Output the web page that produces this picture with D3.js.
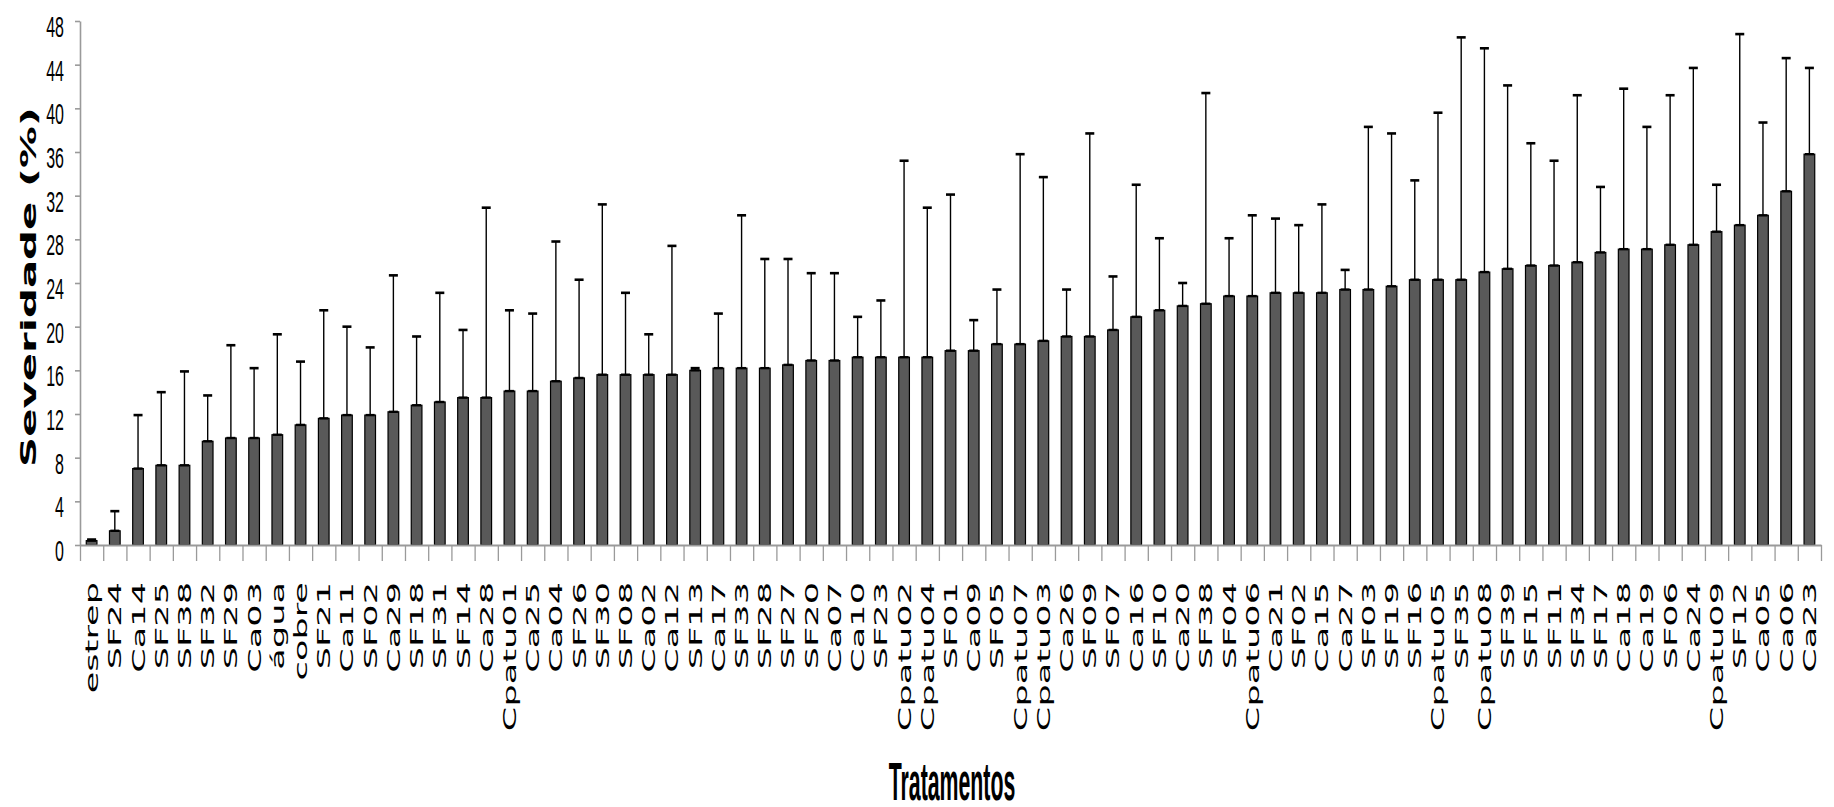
<!DOCTYPE html>
<html>
<head>
<meta charset="utf-8">
<script src="https://cdn.jsdelivr.net/npm/d3@7"></script>
<style>
  body { margin: 0; background: #fff; }
  svg { display: block; }
</style>
</head>
<body>
<div id="chart"></div>
<script>
const labels = ["estrep","SF24","Ca14","SF25","SF38","SF32","SF29","Ca03","água","cobre",
  "SF21","Ca11","SF02","Ca29","SF18","SF31","SF14","Ca28","Cpatu01","Ca25",
  "Ca04","SF26","SF30","SF08","Ca02","Ca12","SF13","Ca17","SF33","SF28",
  "SF27","SF20","Ca07","Ca10","SF23","Cpatu02","Cpatu04","SF01","Ca09","SF05",
  "Cpatu07","Cpatu03","Ca26","SF09","SF07","Ca16","SF10","Ca20","SF38","SF04",
  "Cpatu06","Ca21","SF02","Ca15","Ca27","SF03","SF19","SF16","Cpatu05","SF35",
  "Cpatu08","SF39","SF15","SF11","SF34","SF17","Ca18","Ca19","SF06","Ca24",
  "Cpatu09","SF12","Ca05","Ca06","Ca23"];

// mean severity (%)
const means = [0.4,1.3,7.0,7.3,7.3,9.5,9.8,9.8,10.1,11.0,
  11.6,11.9,11.9,12.2,12.8,13.1,13.5,13.5,14.1,14.1,
  15.0,15.3,15.6,15.6,15.6,15.6,16.0,16.2,16.2,16.2,
  16.5,16.9,16.9,17.2,17.2,17.2,17.2,17.8,17.8,18.4,
  18.4,18.7,19.1,19.1,19.7,20.9,21.5,21.9,22.1,22.8,
  22.8,23.1,23.1,23.1,23.4,23.4,23.7,24.3,24.3,24.3,
  25.0,25.3,25.6,25.6,25.9,26.8,27.1,27.1,27.5,27.5,
  28.7,29.3,30.2,32.4,35.8];

// standard deviation (upper error bar)
const sds = [0.1,1.8,4.9,6.7,8.6,4.2,8.5,6.4,9.2,5.8,
  9.9,8.1,6.2,12.5,6.3,10.0,6.2,17.4,7.4,7.1,
  12.8,9.0,15.6,7.5,3.7,11.8,0.2,5.0,14.0,10.0,
  9.7,8.0,8.0,3.7,5.2,18.0,13.7,14.3,2.8,5.0,
  17.4,15.0,4.3,18.6,4.9,12.1,6.6,2.1,19.3,5.3,
  7.4,6.8,6.2,8.1,1.8,14.9,14.0,9.1,15.3,22.2,
  20.5,16.8,11.2,9.6,15.3,6.0,14.7,11.2,13.7,16.2,
  4.3,17.5,8.5,12.2,7.9];

const yTicks = [0,4,8,12,16,20,24,28,32,36,40,44,48];

const width = 1834, height = 807;
const margin = { top: 21, right: 13, bottom: 262, left: 80 };
const axisColor = "#9a9a9a";

const svg = d3.select("#chart").append("svg")
  .attr("width", width)
  .attr("height", height);

const data = labels.map((name, i) => ({ i, name, mean: means[i], sd: sds[i] }));

const x = d3.scaleBand()
  .domain(d3.range(labels.length))
  .range([margin.left, width - margin.right])
  .paddingInner(0.54)
  .paddingOuter(0.27);

// band boundaries for the tick marks
const xEdge = d3.scaleLinear()
  .domain([0, labels.length])
  .range([margin.left, width - margin.right]);

const y = d3.scaleLinear()
  .domain([0, 48])
  .range([height - margin.bottom, margin.top]);

const y0 = y(0);
const capW = 9;

// bars
svg.append("g").selectAll("rect")
  .data(data)
  .enter().append("rect")
  .attr("x", d => x(d.i))
  .attr("y", d => y(d.mean))
  .attr("width", x.bandwidth())
  .attr("height", d => y0 - y(d.mean))
  .attr("fill", "#595959")
  .attr("stroke", "#000")
  .attr("stroke-width", 1.2);

// error bars
const err = svg.append("g");
const cx = d => x(d.i) + x.bandwidth() / 2;

err.selectAll(".stem")
  .data(data)
  .enter().append("line")
  .attr("class", "stem")
  .attr("x1", cx).attr("x2", cx)
  .attr("y1", d => y(d.mean))
  .attr("y2", d => y(d.mean + d.sd))
  .attr("stroke", "#000")
  .attr("stroke-width", 1.4);

err.selectAll(".cap")
  .data(data)
  .enter().append("line")
  .attr("class", "cap")
  .attr("x1", d => cx(d) - capW / 2)
  .attr("x2", d => cx(d) + capW / 2)
  .attr("y1", d => y(d.mean + d.sd))
  .attr("y2", d => y(d.mean + d.sd))
  .attr("stroke", "#000")
  .attr("stroke-width", 2.6);

err.selectAll(".capLow")
  .data(data)
  .enter().append("line")
  .attr("class", "capLow")
  .attr("x1", d => cx(d) - capW / 2)
  .attr("x2", d => cx(d) + capW / 2)
  .attr("y1", d => y(d.mean))
  .attr("y2", d => y(d.mean))
  .attr("stroke", "#000")
  .attr("stroke-width", 2.4);

// x axis (ticks at band edges)
const xAxisG = svg.append("g")
  .attr("transform", `translate(0,${y0})`)
  .call(d3.axisBottom(xEdge)
    .tickValues(d3.range(labels.length + 1))
    .tickSize(16)
    .tickSizeOuter(0)
    .tickFormat(""));
xAxisG.select(".domain").attr("stroke", axisColor).attr("stroke-width", 2.2);
xAxisG.selectAll(".tick line").attr("stroke", axisColor).attr("stroke-width", 1.3);

// category labels, rotated and stretched
svg.append("g").selectAll("text")
  .data(data)
  .enter().append("text")
  .attr("transform", d => `translate(${cx(d)},582) rotate(-90) scale(1.9,1)`)
  .attr("text-anchor", "end")
  .attr("dy", "0.35em")
  .attr("font-family", "DejaVu Sans")
  .attr("font-size", "18.5px")
  .attr("fill", "#000")
  .text(d => d.name);

// y axis
const yAxisG = svg.append("g")
  .attr("transform", `translate(${margin.left},0)`)
  .call(d3.axisLeft(y)
    .tickValues(yTicks)
    .tickSize(5)
    .tickSizeOuter(0));
yAxisG.select(".domain").attr("stroke", axisColor).attr("stroke-width", 1.6);
yAxisG.selectAll(".tick line").attr("stroke", axisColor).attr("stroke-width", 1.6);
yAxisG.selectAll(".tick text")
  .attr("x", -16)
  .attr("y", 3)
  .attr("transform", "scale(1,1.9)")
  .attr("font-family", "Liberation Sans")
  .attr("font-size", "16px")
  .attr("fill", "#000");

// axis titles
svg.append("text")
  .attr("transform", "translate(28,287) rotate(-90) scale(1.99,1)")
  .attr("text-anchor", "middle")
  .attr("dy", "0.36em")
  .attr("font-family", "DejaVu Sans")
  .attr("font-weight", "bold")
  .attr("font-size", "21px")
  .text("Severidade (%)");

svg.append("text")
  .attr("transform", "translate(952,800) scale(1,2.5)")
  .attr("text-anchor", "middle")
  .attr("font-family", "Liberation Sans")
  .attr("font-weight", "bold")
  .attr("font-size", "21.3px")
  .text("Tratamentos");
</script>
</body>
</html>
